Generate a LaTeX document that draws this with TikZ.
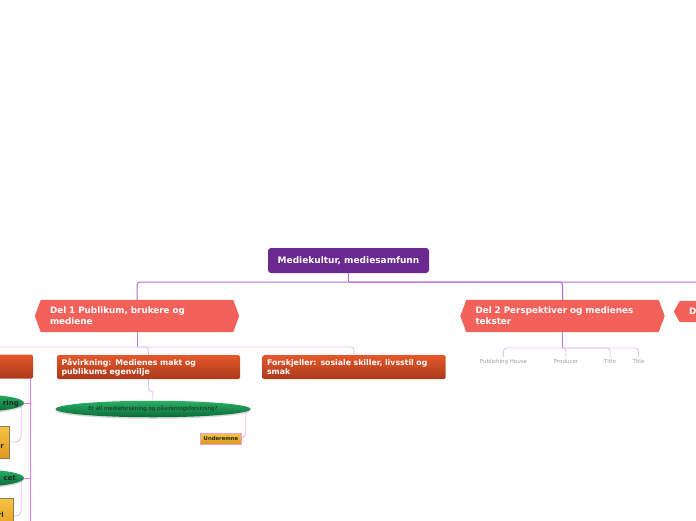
\documentclass[tikz,border=0pt]{standalone}
\usepackage{fontspec}
\setmainfont{DejaVu Sans}
\usetikzlibrary{shapes.geometric,shadows,backgrounds,calc}
\definecolor{rootpurple}{HTML}{69298F}
\definecolor{mainline}{HTML}{B56BD0}
\definecolor{midline}{HTML}{C27ADF}
\definecolor{delred}{HTML}{F2625A}
\definecolor{ortop}{HTML}{E5572A}
\definecolor{orbot}{HTML}{A93A1C}
\definecolor{grtop}{HTML}{28B064}
\definecolor{grbot}{HTML}{0C6A3A}
\definecolor{gotop}{HTML}{F6C443}
\definecolor{gobot}{HTML}{E0981C}
\definecolor{sublinecol}{HTML}{ECBEF5}
\definecolor{vlinecol}{HTML}{E17DF2}
\definecolor{pinkedge}{HTML}{E6A2E6}
\definecolor{ybord}{HTML}{8C7B55}
\definecolor{labgray}{HTML}{9C9C9C}
\definecolor{darktext}{HTML}{1E2A20}
\begin{document}
\begin{tikzpicture}[x=1pt,y=-1pt,
  rootbox/.style={fill=rootpurple, rounded corners=3pt, text=white,
    font=\bfseries\fontsize{9}{10}\selectfont, minimum width=161pt,
    minimum height=25pt, inner sep=0pt},
  delbox/.style={text=white, font=\bfseries\fontsize{8.8}{11}\selectfont,
    text width=174pt, inner xsep=9pt, inner ysep=0pt, minimum height=32pt, align=left},
  orbox/.style={top color=ortop, bottom color=orbot, rounded corners=1.5pt, text=white,
    font=\bfseries\fontsize{7.8}{9}\selectfont, text width=174pt, inner xsep=4.5pt,
    inner ysep=0pt, minimum height=24pt, align=left},
  bigell/.style={ellipse, top color=grtop, bottom color=grbot, minimum width=195pt,
    minimum height=16.5pt, inner sep=0pt, font=\fontsize{5.5}{6}\selectfont, text=darktext,
    drop shadow={opacity=0.3, shadow xshift=0pt, shadow yshift=-1.5pt}},
  smallell/.style={ellipse, top color=grtop, bottom color=grbot, minimum width=90pt,
    minimum height=17pt, inner sep=0pt,
    drop shadow={opacity=0.3, shadow xshift=0pt, shadow yshift=-1.5pt}},
  lefttext/.style={font=\bfseries\fontsize{7}{8}\selectfont, text=darktext, inner sep=0pt},
  undbox/.style={top color=gotop, bottom color=gobot, draw=pinkedge, line width=0.7pt,
    minimum width=41pt, minimum height=11pt, inner sep=0pt,
    font=\bfseries\fontsize{5.3}{6}\selectfont, text=darktext},
  ybox/.style={top color=gotop, bottom color=gobot, draw=ybord, line width=0.8pt,
    inner sep=0pt},
  glabel/.style={font=\fontsize{5.5}{6}\selectfont, text=labgray, inner sep=1.5pt, anchor=base},
  mainconn/.style={draw=mainline, line width=1pt, rounded corners=3pt},
  midconn/.style={draw=midline, line width=1pt},
  subconn/.style={draw=sublinecol, line width=0.9pt, rounded corners=3pt},
  vconn/.style={draw=vlinecol, line width=0.9pt}
]
\useasboundingbox (0,0) rectangle (696,520);
\clip (0,0) rectangle (696,520);

% nodes
\node[rootbox] (root) at (348.5,260.5) {Mediekultur, mediesamfunn};
\node[delbox] (d1) at (137,316) {Del 1 Publikum, brukere og\\mediene};
\node[delbox] (d2) at (562.5,316) {Del 2 Perspektiver og medienes\\tekster};
\node[delbox, minimum height=21pt] (d3) at (776,311.5) {Del 3};

\node[orbox] (lb) at (-58.5,366.5) {};
\node[orbox] (pav) at (148.5,367) {Påvirkning: Medienes makt og\\publikums egenvilje};
\node[orbox] (fors) at (354,367) {Forskjeller: sosiale skiller, livsstil og\\smak};

\node[bigell] (ell) at (153,409) {Er all medieforskning og påvirkningsforskning?};
\node[undbox] (und) at (221,438.5) {Underemne};

\node[smallell] (le1) at (-21,403) {};
\node[lefttext, anchor=base east] (le1t) at (19,405.5) {ring};
\node[smallell] (le2) at (-21,478) {};
\node[lefttext, anchor=base east] (le2t) at (16,480.5) {cet};

\node[ybox, minimum width=60pt, minimum height=32pt] (ly1) at (-21,442) {};
\node[lefttext, anchor=base east] (ly1t) at (4,448.5) {r};
\node[ybox, minimum width=60pt, minimum height=36pt] (ly2) at (-17,516) {};
\node[lefttext, anchor=base east] (ly2t) at (4,517) {rl};

\node[glabel] (p1) at (503.5,363) {Publishing House};
\node[glabel] (p2) at (566,363) {Producer};
\node[glabel] (p3) at (610,363) {Title};
\node[glabel] (p4) at (638.5,363) {Title};

\begin{scope}[on background layer]
  \foreach \n in {d1,d2,d3}
    \fill[delred] ($(\n.west)+(-6,0)$) -- (\n.north west) -- (\n.north east)
      -- ($(\n.east)+(6,0)$) -- (\n.south east) -- (\n.south west) -- cycle;

  \coordinate (J) at (348.5,282);
  \draw[mainconn] (root.south) -- (J);
  \draw[mainconn] (J) -| (d1.north);
  \draw[mainconn] (J) -| (d2.north);
  \draw[mainconn] (J) -| (d3.north);

  \coordinate (K1) at (137,347);
  \draw[midconn] (d1.south) -- (K1);
  \draw[subconn] (K1) -| (lb.north);
  \draw[subconn] (K1) -| (pav.north);
  \draw[subconn] (K1) -| (fors.north);

  \coordinate (K2) at (562.5,348);
  \draw[midconn] (d2.south) -- (K2);
  \draw[subconn] (K2) -| (p1.north);
  \draw[subconn] (K2) -| (p2.north);
  \draw[subconn] (K2) -| (p3.north);
  \draw[subconn] (K2) -| (p4.north);

  \draw[subconn, rounded corners=2pt] (pav.south) -- ++(0,12) -| (ell.north);
  \draw[subconn, rounded corners=6pt] ($(ell.east)+(-5,0)$) |- (und.east);

  \coordinate (V) at ($(lb.south east)+(-3,0)$);
  \coordinate (Vend) at ($(V)+(0,160)$);
  \draw[vconn] (V) -- (Vend);
  \draw[vconn] (le1.east) -- (le1.east -| V);
  \draw[vconn] (le2.east) -- (le2.east -| V);
  \draw[subconn, rounded corners=6pt] ($(le1.east)+(-3,0)$) |- (ly1.east);
  \draw[subconn, rounded corners=6pt] ($(le2.east)+(-3,0)$) |- (ly2.east);
\end{scope}
\end{tikzpicture}
\end{document}
